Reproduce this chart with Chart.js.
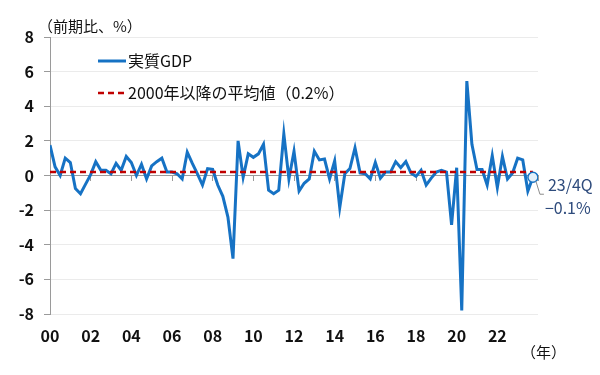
<!DOCTYPE html>
<html>
<head>
<meta charset="utf-8">
<script src="https://cdn.jsdelivr.net/npm/chart.js@4"></script>
<style>
	html, body { margin: 0; padding: 0; background: #fff; }
	#wrap { width: 600px; height: 375px; position: relative; }
</style>
</head>
<body>
<div id="wrap"><canvas id="gdpChart"></canvas></div>
<script>
// 年ラベル（2年ごと）
const yearTicks = ["00", "02", "04", "06", "08", "10", "12", "14", "16", "18", "20", "22"];

// 実質GDP 前期比（%）2000/1Q～2023/4Q
const gdp2000s = [1.75, 0.5, 0.0, 1.0, 0.75, -0.75, -1.05, -0.5, 0.05, 0.8, 0.3, 0.3,
	0.1, 0.7, 0.3, 1.1, 0.75, 0.0, 0.65, -0.2, 0.55, 0.8, 1.0, 0.2,
	0.2, 0.1, -0.2, 1.35, 0.7, 0.1, -0.55, 0.4, 0.35, -0.55, -1.2, -2.4,
	-4.8, 2.0, -0.1, 1.25];
const gdp2010s = [1.05, 1.25, 1.8, -0.85, -1.05, -0.85, 2.4, -0.2,
	1.4, -0.9, -0.45, -0.2, 1.4, 0.9, 0.95, -0.2, 0.85, -1.85, 0.1, 0.4,
	1.6, 0.15, 0.1, -0.2, 0.75, -0.15, 0.2, 0.2, 0.8, 0.45, 0.8, 0.15,
	-0.05, 0.3, -0.55, -0.15, 0.2, 0.3, 0.2, -2.85];
const gdp2020s = [0.45, -7.8, 5.45, 1.8, 0.35, 0.35, -0.55, 1.15,
	-0.7, 1.1, -0.2, 0.15, 1.0, 0.9, -0.9, -0.1];
const gdpGrowth = gdp2000s.concat(gdp2010s, gdp2020s);

const avgSince2000 = 0.2;
const lastLabel = "23/4Q";
const lastValueText = "\u22120.1%";

document.addEventListener("DOMContentLoaded", () => {

	Chart.defaults.font.family = "'Noto Sans CJK JP', 'Noto Sans', sans-serif";
	Chart.defaults.color = "#111";

	const lastIdx = gdpGrowth.length - 1;

	// legend, unit labels and the last-point note
	const textPlugin = {
		id: "textPlugin",
		afterDraw(chart) {
			const ctx = chart.ctx;
			const xs = chart.scales.x;
			const ys = chart.scales.y;
			ctx.save();
			ctx.textBaseline = "middle";
			ctx.fillStyle = "#111";
			ctx.font = "15px 'Noto Sans CJK JP'";
			ctx.fillText("（前期比、%）", 38, 26);
			ctx.fillText("（年）", 521, 352);

			// legend
			ctx.lineWidth = 3;
			ctx.strokeStyle = "#1672c4";
			ctx.beginPath();
			ctx.moveTo(98, 61);
			ctx.lineTo(126, 61);
			ctx.stroke();
			ctx.lineWidth = 2.5;
			ctx.strokeStyle = "#c00000";
			ctx.setLineDash([6, 4]);
			ctx.beginPath();
			ctx.moveTo(98, 93);
			ctx.lineTo(124, 93);
			ctx.stroke();
			ctx.setLineDash([]);
			ctx.font = "16px 'Noto Sans CJK JP'";
			ctx.fillText("実質GDP", 128, 61);
			ctx.fillText("2000年以降の平均値（0.2%）", 128, 93);

			// note for the last quarter
			const px = xs.getPixelForValue(lastIdx);
			const py = ys.getPixelForValue(gdpGrowth[lastIdx]);
			ctx.strokeStyle = "#8c8c8c";
			ctx.lineWidth = 1;
			ctx.beginPath();
			ctx.moveTo(px + 3, py + 4);
			ctx.lineTo(px + 7, py + 17);
			ctx.lineTo(px + 11, py + 17);
			ctx.stroke();
			ctx.fillStyle = "#2e4b7c";
			ctx.font = "16px 'Noto Sans CJK JP'";
			ctx.fillText(lastLabel, px + 15, py + 8);
			ctx.fillText(lastValueText, px + 12, py + 31);
			ctx.restore();
		}
	};

	window.gdpChart = new Chart(document.getElementById("gdpChart"), {

		type: "line",

		data: {
			datasets: [{
				label: "23/4Q",
				data: [{ x: lastIdx, y: gdpGrowth[lastIdx] }],
				showLine: false,
				pointRadius: 5,
				pointBackgroundColor: "#e3f0fa",
				pointBorderColor: "#1672c4",
				pointBorderWidth: 1.5
			}, {
				label: "2000年以降の平均値",
				data: [{ x: 0, y: avgSince2000 }, { x: lastIdx, y: avgSince2000 }],
				borderColor: "#c00000",
				borderWidth: 2.5,
				borderDash: [6, 4],
				pointRadius: 0
			}, {
				label: "実質GDP",
				data: gdpGrowth.map((v, i) => ({ x: i, y: v })),
				borderColor: "#1672c4",
				borderWidth: 3,
				tension: 0,
				pointRadius: 0
			}]
		},

		options: {
			responsive: true,
			maintainAspectRatio: false,
			animation: false,
			layout: {
				padding: { top: 37, right: 62, bottom: 21, left: 0 }
			},
			plugins: {
				legend: { display: false },
				tooltip: { enabled: false }
			},
			scales: {
				x: {
					type: "linear",
					position: "bottom",
					min: 0,
					max: 96,
					afterFit: (s) => { s.height = 40; },
					afterBuildTicks: (s) => {
						s.ticks = yearTicks.map((t, k) => ({ value: k * 8 }));
					},
					ticks: {
						padding: 12,
						maxRotation: 0,
						autoSkip: false,
						font: { size: 16, weight: "bold" },
						color: "#111",
						callback: (v) => yearTicks[v / 8] || ""
					},
					grid: { display: false, drawTicks: false },
					border: { display: false }
				},
				x2: {
					type: "linear",
					position: { y: 0 },
					min: 0,
					max: 96,
					afterBuildTicks: (s) => {
						const t = [];
						for (let k = 0; k <= 12; k++) t.push({ value: k * 8 });
						s.ticks = t;
					},
					ticks: { display: false },
					grid: {
						drawOnChartArea: false,
						drawTicks: true,
						tickLength: 5,
						tickColor: "#9a9a9a"
					},
					border: { display: true, color: "#9a9a9a", width: 1 }
				},
				y: {
					min: -8,
					max: 8,
					afterFit: (s) => { s.width = 50; },
					ticks: {
						stepSize: 2,
						padding: 10,
						font: { size: 16, weight: "bold" },
						color: "#111",
						callback: (v) => (v < 0 ? "-" + Math.abs(v) : String(v))
					},
					grid: {
						color: (c) => (c.tick && c.tick.value === 0 ? "#9a9a9a" : "#ebebeb"),
						tickColor: "#9a9a9a",
						tickLength: 6
					},
					border: { display: true, color: "#9a9a9a" }
				}
			}
		},

		plugins: [textPlugin]
	});
});
</script>
</body>
</html>
